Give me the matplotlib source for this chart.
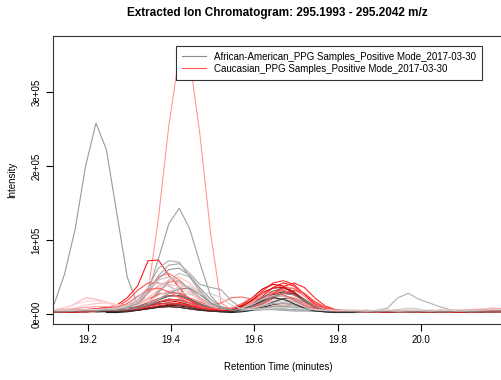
import numpy as np
import matplotlib
matplotlib.use("Agg")
from matplotlib import pyplot as plt

plt.rcParams['font.family'] = ['Liberation Sans', 'DejaVu Sans']

# retention time grid (minutes)
rt = [19.120, 19.145, 19.170, 19.195, 19.220, 19.245, 19.270, 19.295, 19.320,
      19.345, 19.370, 19.395, 19.420, 19.445, 19.470, 19.495, 19.520, 19.545,
      19.570, 19.595, 19.620, 19.645, 19.670, 19.695, 19.720, 19.745, 19.770,
      19.795, 19.820, 19.845, 19.870, 19.895, 19.920, 19.945, 19.970, 19.995,
      20.020, 20.045, 20.070, 20.095, 20.120, 20.145, 20.170, 20.195, 20.220]

nan = float('nan')

# intensities in thousands, African-American samples
aa_traces = [
    ('#999999', [14, 55, 115, 200, 258, 222, 136, 50, 12, 8, 10, 12, 14, 12, 9, 6, 5,
                 4, 4, 5, 6, 7, 7, 6, 5, 4, 4, 3, 3, 4, 3, 3, 4, 3, 3, 4, 3, 4, 3, 4, 4, 5, 5, 5, 5]),
    ('#a0a0a0', [3, 3, 4, 3, 4, 4, 5, 6, 10, 30, 75, 122, 143, 115, 68, 25, 10,
                 6, 5, 5, 6, 6, 5, 4, 4, 4, 3, 3, 3, 4, 3, 3, 4, 4, 3, 3, 4, 3, 3, 4, 4, 3, 4, 4, 4]),
    ('#b0b0b0', [3, 3, 3, 4, 4, 4, 5, 6, 8, 12, 17, 20, 18, 13, 9, 6, 5,
                 4, 4, 5, 6, 6, 6, 5, 5, 4, 4, 3, 3, 4, 4, 5, 8, 22, 28, 20, 15, 10, 6, 4, 4, 3, 4, 4, 5]),
    ('#a8a8a8', [3, 3, 4, 4, 4, 5, 6, 8, 14, 30, 52, 66, 68, 55, 40, 36, 33,
                 18, 8, 6, 8, 10, 11, 9, 6, 4, 4, 3, 3, 3, 4, 3, 3, 4, 4, 3, 3, 4, 3, 3, 4, 4, 4, 5, 4]),
    ('#888888', [4, 4, 3, 4, 5, 5, 6, 7, 9, 16, 30, 43, 45, 34, 22, 12, 7,
                 5, 6, 8, 13, 18, 20, 17, 11, 6, 4, 4, 3, 3, 4, 3, 3, 4, 4, 3, 3, 4, 3, 3, 4, 4, 5, 4, 5]),
    ('#bbbbbb', [3, 3, 4, 4, 4, 5, 5, 6, 8, 14, 28, 46, 55, 50, 32, 16, 8,
                 5, 4, 5, 7, 10, 12, 11, 8, 5, 4, 3, 4, 4, 3, 3, 4, 4, 3, 3, 4, 3, 3, 4, 4, 5, 6, 5, 6]),
    ('#777777', [4, 3, 4, 4, 4, 5, 6, 7, 10, 17, 26, 30, 27, 20, 13, 8, 6,
                 5, 7, 10, 16, 22, 25, 21, 14, 8, 5, 4, 3, 3, 3, 4, 3, 3, 4, 3, 3, 3, 4, 3, 3, 4, 4, 4, 4]),
    ('#444444', [3, 3, 3, 3, 4, 4, 4, 5, 7, 11, 16, 20, 19, 15, 10, 7, 5,
                 4, 5, 9, 17, 26, 30, 27, 18, 9, 5, 4, 3, 3, 3, 3, 3, 3, 3, 3, 3, 3, 3, 3, 3, 3, 3, 3, 3]),
    ('#1a1a1a', [nan, nan, nan, nan, nan, 2, 2, 3, 5, 8, 10, 12, 11, 9, 6, 4, 3,
                 2, 3, 5, 9, 13, 15, 13, 9, 5, 3, 2, nan, nan, nan, nan, nan, nan, nan, nan,
                 nan, nan, nan, nan, nan, nan, nan, nan, nan]),
    ('#666666', [4, 4, 4, 5, 5, 5, 6, 7, 9, 13, 19, 24, 25, 20, 14, 9, 6,
                 5, 8, 13, 22, 31, 35, 30, 20, 11, 6, 4, 4, 4, 3, 3, 4, 4, 3, 4, 3, 3, 4, 3, 4, 4, 3, 4, 4]),
    ('#cccccc', [5, 5, 6, 6, 5, 6, 6, 7, 8, 12, 20, 30, 37, 38, 28, 16, 9,
                 6, 6, 8, 12, 16, 18, 16, 12, 8, 6, 5, 5, 4, 5, 4, 5, 6, 8, 7, 4, 5, 5, 4, 5, 5, 6, 5, 6]),
    ('#555555', [3, 3, 3, 4, 4, 4, 5, 6, 8, 11, 14, 15, 13, 10, 7, 5, 4,
                 4, 4, 6, 10, 16, 21, 22, 16, 9, 5, 4, 3, 3, 3, 3, 3, 3, 3, 3, 3, 3, 3, 3, 3, 3, 3, 3, 3]),
    ('#999999', [3, 4, 4, 4, 5, 6, 7, 9, 14, 28, 48, 60, 62, 52, 35, 20, 10,
                 6, 5, 6, 8, 10, 10, 9, 7, 5, 4, 4, 4, 3, 3, 4, 4, 3, 3, 4, 4, 3, 4, 4, 3, 4, 4, 5, 4]),
    ('#aaaaaa', [4, 4, 5, 5, 5, 6, 7, 10, 18, 36, 62, 72, 70, 50, 30, 15, 8,
                 5, 5, 7, 11, 14, 15, 13, 9, 6, 4, 4, 3, 4, 4, 3, 4, 4, 4, 3, 4, 4, 3, 4, 4, 4, 5, 5, 5]),
    ('#c0c0c0', [4, 4, 4, 5, 5, 6, 7, 10, 17, 32, 46, 50, 44, 32, 20, 11, 7,
                 5, 8, 13, 20, 25, 24, 18, 11, 6, 4, 4, 4, 4, 3, 4, 4, 3, 4, 4, 3, 4, 4, 4, 4, 5, 5, 5, 5]),
    ('#333333', [nan, nan, nan, nan, 3, 3, 3, 4, 5, 7, 9, 10, 9, 7, 5, 4, 3,
                 3, 6, 11, 18, 22, 20, 14, 8, 4, 3, 2, 2, 2, nan, nan, nan, nan, nan, nan,
                 nan, nan, nan, nan, nan, nan, nan, nan, nan]),
    ('#8a8a8a', [3, 3, 4, 4, 4, 5, 5, 6, 8, 12, 19, 28, 34, 35, 26, 15, 8,
                 5, 6, 10, 16, 23, 28, 26, 18, 10, 5, 4, 4, 3, 3, 3, 4, 3, 3, 3, 4, 3, 3, 4, 3, 4, 4, 4, 4]),
    ('#d0d0d0', [5, 5, 5, 6, 6, 7, 8, 12, 22, 36, 42, 38, 30, 26, 27, 28, 22,
                 12, 7, 6, 7, 8, 9, 8, 7, 6, 5, 5, 5, 5, 4, 5, 5, 4, 5, 5, 4, 5, 5, 4, 5, 5, 6, 6, 6]),
]

# intensities in thousands, Caucasian samples
cau_traces = [
    ('#ff9999', [4, 4, 5, 5, 6, 6, 7, 8, 10, 30, 130, 255, 350, 345, 240, 110, 15,
                 6, 5, 6, 9, 12, 14, 12, 8, 5, 4, 4, 3, 3, 4, 3, 3, 4, 3, 3, 4, 3, 4, 4, 5, 6, 7, 6, 7]),
    ('#ff1a1a', [4, 4, 5, 6, 7, 9, 12, 22, 38, 72, 73, 52, 36, 18, 10, 7, 6,
                 5, 8, 14, 24, 36, 42, 38, 27, 13, 6, 4, 4, 3, 4, 4, 3, 3, 4, 3, 3, 4, 3, 4, 4, 5, 5, 4, 5]),
    ('#ff4d4d', [4, 5, 5, 6, 7, 8, 10, 18, 32, 42, 42, 38, 30, 20, 12, 8, 6,
                 5, 7, 12, 20, 28, 32, 28, 18, 9, 5, 4, 4, 4, 3, 4, 4, 3, 4, 4, 3, 4, 4, 3, 4, 5, 6, 6, 7]),
    ('#ffb3b3', [6, 8, 14, 22, 20, 16, 12, 12, 15, 22, 32, 40, 38, 28, 18, 10, 7,
                 6, 9, 14, 21, 27, 30, 26, 18, 10, 6, 5, 5, 4, 4, 5, 4, 4, 5, 4, 4, 5, 4, 5, 5, 6, 7, 6, 6]),
    ('#ff3030', [3, 3, 4, 4, 5, 5, 6, 7, 10, 15, 21, 25, 24, 18, 12, 8, 6,
                 6, 10, 18, 31, 42, 45, 40, 27, 14, 7, 5, 4, 4, 3, 3, 4, 4, 3, 3, 4, 3, 3, 4, 4, 4, 5, 5, 5]),
    ('#e60000', [3, 3, 3, 4, 4, 4, 5, 6, 8, 12, 16, 18, 16, 12, 8, 6, 5,
                 6, 12, 22, 34, 40, 38, 30, 18, 9, 5, 4, 3, 3, 3, 3, 3, 3, 3, 3, 3, 3, 3, 3, 3, 4, 4, 4, 4]),
    ('#ff6b6b', [4, 4, 5, 5, 6, 6, 7, 9, 13, 20, 27, 30, 28, 22, 16, 12, 15,
                 22, 23, 20, 22, 28, 34, 35, 28, 16, 8, 5, 4, 4, 4, 4, 3, 4, 4, 3, 4, 4, 4, 4, 5, 5, 6, 5, 6]),
    ('#ffc2c2', [5, 6, 8, 12, 14, 15, 13, 12, 14, 20, 34, 46, 50, 42, 28, 15, 8,
                 6, 6, 9, 14, 18, 20, 18, 13, 8, 6, 5, 5, 5, 4, 5, 5, 4, 5, 5, 4, 5, 5, 5, 6, 7, 8, 7, 8]),
    ('#d91111', [3, 3, 3, 3, 4, 4, 4, 5, 6, 8, 11, 13, 12, 10, 7, 5, 4,
                 4, 6, 10, 17, 24, 28, 26, 18, 10, 5, 4, 3, 3, 3, 3, 3, 3, 3, 3, 3, 3, 3, 3, 3, 3, 4, 4, 4]),
    ('#ff8080', [4, 4, 5, 6, 6, 7, 8, 11, 18, 34, 50, 55, 46, 32, 20, 11, 7,
                 6, 9, 16, 27, 35, 38, 34, 24, 12, 6, 5, 4, 4, 4, 4, 4, 4, 4, 4, 4, 4, 4, 4, 5, 5, 6, 6, 6]),
    ('#ff4040', [3, 3, 4, 4, 4, 5, 5, 6, 8, 12, 16, 20, 19, 15, 10, 7, 5,
                 5, 6, 9, 14, 21, 28, 32, 28, 17, 9, 5, 4, 3, 3, 3, 3, 3, 3, 3, 3, 3, 3, 3, 3, 4, 4, 4, 4]),
    ('#ffd6d6', [6, 9, 13, 17, 18, 15, 11, 10, 12, 17, 25, 32, 35, 30, 20, 11, 7,
                 6, 6, 8, 11, 14, 15, 13, 10, 7, 6, 5, 5, 5, 5, 5, 5, 5, 5, 5, 5, 5, 5, 6, 6, 7, 8, 8, 8]),
    ('#ff2a2a', [3, 3, 3, 4, 4, 4, 5, 6, 7, 10, 13, 15, 14, 11, 8, 6, 5,
                 5, 7, 11, 18, 27, 37, 42, 36, 22, 11, 6, 4, 4, 3, 3, 3, 4, 3, 3, 3, 4, 3, 3, 4, 4, 4, 5, 5]),
    ('#ffa0a0', [5, 6, 7, 9, 10, 10, 10, 12, 18, 28, 38, 45, 42, 33, 22, 13, 8,
                 6, 8, 12, 18, 23, 25, 22, 15, 9, 6, 5, 5, 5, 5, 4, 5, 5, 5, 4, 5, 5, 5, 5, 6, 6, 7, 7, 7]),
    ('#cc0000', [3, 3, 3, 3, 3, 4, 4, 4, 5, 7, 9, 10, 9, 7, 5, 4, 4,
                 5, 10, 19, 29, 35, 36, 29, 18, 9, 5, 3, 3, 3, 3, 3, 3, 3, 3, 3, 3, 3, 3, 3, 3, 3, 3, 3, 3]),
    ('#ff5c5c', [4, 4, 5, 5, 6, 7, 9, 14, 24, 33, 35, 30, 22, 15, 10, 8, 7,
                 8, 14, 22, 29, 30, 26, 19, 12, 7, 5, 4, 4, 4, 4, 3, 4, 4, 3, 4, 4, 3, 4, 4, 4, 5, 5, 5, 6]),
]

group_labels = ['African-American_PPG Samples_Positive Mode_2017-03-30',
                'Caucasian_PPG Samples_Positive Mode_2017-03-30']
group_colors = ['#8c8c8c', '#ff5555']
xticks = [19.2, 19.4, 19.6, 19.8, 20.0]
yticks = [0, 1e5, 2e5, 3e5]
ytick_labels = ['0e+00', '1e+05', '2e+05', '3e+05']

fig = plt.figure(figsize=(5.01, 3.80), dpi=100)
ax = fig.add_axes([52.7 / 501, 1 - 324 / 380, (512 - 52.7) / 501, (324 - 36) / 380])

x = np.array(rt)
n = max(len(aa_traces), len(cau_traces))
for i in range(n):
    if i < len(aa_traces):
        c, v = aa_traces[i]
        ax.plot(x, np.array(v, dtype=float) * 1000, color=c, lw=0.8)
    if i < len(cau_traces):
        c, v = cau_traces[i]
        ax.plot(x, np.array(v, dtype=float) * 1000, color=c, lw=0.8)

ax.set_xlim(19.116, 20.219)
ax.set_ylim(-13500, 375700)
ax.set_xticks(xticks)
ax.set_xticklabels([f'{t:.1f}' for t in xticks])
ax.set_yticks(yticks)
ax.set_yticklabels(ytick_labels, rotation=90, va='center')
ax.tick_params(direction='out', length=5, width=0.8, labelsize=7, pad=3)
for s in ax.spines.values():
    s.set_linewidth(0.8)
    s.set_color('#333333')

fig.text(277 / 501, 1 - 13 / 380, 'Extracted Ion Chromatogram: 295.1993 - 295.2042 m/z',
         ha='center', va='center', fontsize=8.5, fontweight='bold')
fig.text(278 / 501, 1 - 367 / 380, 'Retention Time (minutes)', ha='center', va='center', fontsize=7)
fig.text(12 / 501, 1 - 180 / 380, 'Intensity', ha='center', va='center', fontsize=7, rotation=90)

handles = [plt.Line2D([], [], color=c, lw=0.8) for c in group_colors]
leg = fig.legend(handles, group_labels, loc='upper left',
                 bbox_to_anchor=(176 / 501, 1 - 46 / 380), bbox_transform=fig.transFigure,
                 borderaxespad=0, fontsize=7, frameon=True, fancybox=False, framealpha=1,
                 edgecolor='#333333', borderpad=0.6, handlelength=2.5, labelspacing=0.2)
leg.get_frame().set_linewidth(0.8)

fig.savefig('out.png', dpi=100)
